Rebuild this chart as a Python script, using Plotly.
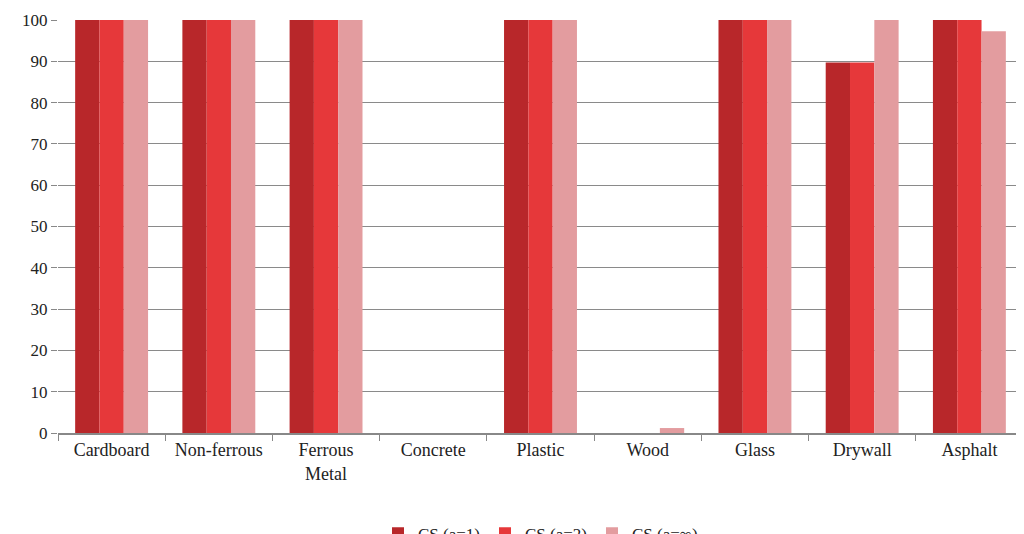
import plotly.graph_objects as go

categories = ["Cardboard", "Non-ferrous", "Ferrous<br>Metal", "Concrete", "Plastic", "Wood", "Glass", "Drywall", "Asphalt"]
cs_a1 = [100, 100, 100, 0, 100, 0, 100, 89.7, 100]
cs_a2 = [100, 100, 100, 0, 100, 0, 100, 89.7, 100]
cs_inf = [100, 100, 100, 0, 100, 1.2, 100, 100, 97.3]
series_names = ["CS (a=1)", "CS (a=2)", "CS (a=∞)"]
colors = ["#b8272a", "#e6383a", "#e39c9f"]

fig = go.Figure()
for name, vals, c in zip(series_names, [cs_a1, cs_a2, cs_inf], colors):
    fig.add_trace(go.Bar(x=categories, y=vals, name=name, marker=dict(color=c, line=dict(width=0))))

fig.update_layout(
    width=1024, height=534, barmode="group", bargap=0.32, bargroupgap=0,
    paper_bgcolor="white", plot_bgcolor="white",
    margin=dict(l=50, r=9, t=12, b=109, autoexpand=False),
    font=dict(family="Liberation Serif, DejaVu Serif, serif", size=18, color="#222"),
    legend=dict(orientation="h", x=0.5, xanchor="center", y=-0.2, yanchor="top", font=dict(size=17)),
    xaxis=dict(tickson="boundaries", ticks="outside", ticklen=6, tickcolor="#888",
               showline=True, linecolor="#888", linewidth=1.5, tickfont=dict(size=18)),
    yaxis=dict(range=[0, 100], dtick=10, showgrid=True, gridcolor="#8a8a8a", gridwidth=1,
               ticks="outside", ticklen=6, tickcolor="#888", zeroline=False, tickfont=dict(size=17)),
)
fig.write_html("out.html")
